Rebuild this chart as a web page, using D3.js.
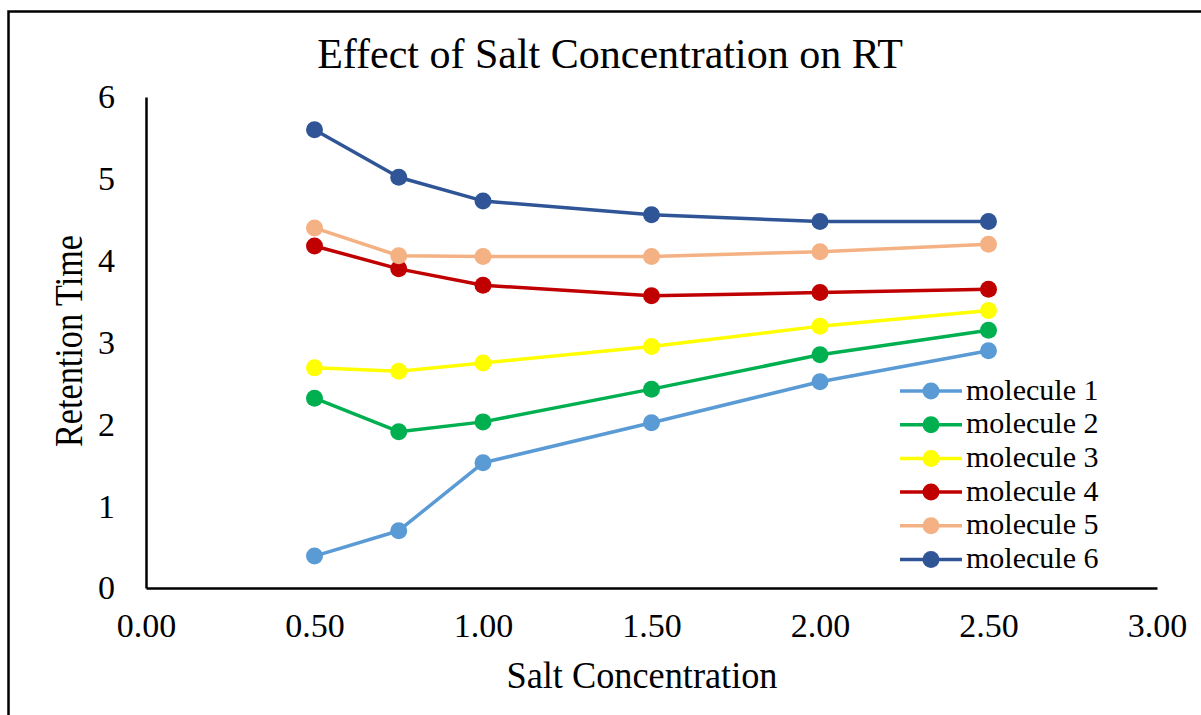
<!DOCTYPE html>
<html>
<head>
<meta charset="utf-8">
<script src="https://cdn.jsdelivr.net/npm/d3@7"></script>
<style>
  body { margin: 0; background: #fff; }
</style>
</head>
<body>
<script>
// salt concentration levels
const saltConc = [0.5, 0.75, 1.0, 1.5, 2.0, 2.5];

const molecule1 = [0.39, 0.70, 1.53, 2.02, 2.52, 2.90];
const molecule2 = [2.32, 1.91, 2.03, 2.43, 2.85, 3.15];
const molecule3 = [2.69, 2.65, 2.75, 2.95, 3.20, 3.39];
const molecule4 = [4.18, 3.90, 3.70, 3.57, 3.61, 3.65];
const molecule5 = [4.40, 4.06, 4.05, 4.05, 4.11, 4.20];
const molecule6 = [5.60, 5.02, 4.73, 4.56, 4.48, 4.48];

const seriesNames = ["molecule 1", "molecule 2", "molecule 3", "molecule 4", "molecule 5", "molecule 6"];
const seriesColors = ["#5B9BD5", "#00B050", "#FFFF00", "#C00000", "#F4B183", "#2F5597"];
const xTicks = [0, 0.5, 1, 1.5, 2, 2.5, 3];
const yTicks = [0, 1, 2, 3, 4, 5, 6];

const allSeries = [molecule1, molecule2, molecule3, molecule4, molecule5, molecule6];

const serif = "'Liberation Serif', 'Times New Roman', serif";
const width = 1201, height = 715;
const plot = {left: 146, right: 1157, top: 97, bottom: 588};

const svg = d3.select("body").append("svg")
  .attr("width", width)
  .attr("height", height);

// outer chart border (only top and left visible in the crop)
svg.append("path")
  .attr("d", "M8.5," + (height + 5) + "V11.5H" + (width + 5))
  .attr("fill", "none")
  .attr("stroke", "#000")
  .attr("stroke-width", 2.5);

const x = d3.scaleLinear().domain([0, 3]).range([plot.left, plot.right]);
const y = d3.scaleLinear().domain([0, 6]).range([plot.bottom, plot.top]);

// axes
const xAxis = svg.append("g")
  .attr("transform", "translate(0," + plot.bottom + ")")
  .call(d3.axisBottom(x).tickValues(xTicks).tickSize(0).tickPadding(25).tickFormat(d3.format(".2f")));
xAxis.select(".domain").attr("stroke", "#000").attr("stroke-width", 2.5);
xAxis.selectAll("text")
  .attr("font-size", 34).attr("fill", "#000").attr("font-family", serif);

const yAxis = svg.append("g")
  .attr("transform", "translate(" + plot.left + ",0)")
  .call(d3.axisLeft(y).tickValues(yTicks).tickSize(0).tickPadding(31).tickFormat(d3.format("d")));
yAxis.select(".domain").attr("stroke", "#000").attr("stroke-width", 2.5);
yAxis.selectAll("text")
  .attr("font-size", 34).attr("fill", "#000").attr("font-family", serif);

// lines and markers
const line = d3.line()
  .x((d, i) => x(saltConc[i]))
  .y(d => y(d));

allSeries.forEach((vals, s) => {
  svg.append("path")
    .datum(vals)
    .attr("fill", "none")
    .attr("stroke", seriesColors[s])
    .attr("stroke-width", 3.5)
    .attr("stroke-linejoin", "round")
    .attr("d", line);

  svg.selectAll(".pt" + s)
    .data(vals)
    .enter()
    .append("circle")
    .attr("class", "pt" + s)
    .attr("cx", (d, i) => x(saltConc[i]))
    .attr("cy", d => y(d))
    .attr("r", 8.5)
    .attr("fill", seriesColors[s]);
});

// titles
svg.append("text")
  .attr("x", 610)
  .attr("y", 68)
  .attr("text-anchor", "middle")
  .attr("font-family", serif)
  .attr("font-size", 42)
  .text("Effect of Salt Concentration on RT");

svg.append("text")
  .attr("x", 642)
  .attr("y", 688)
  .attr("text-anchor", "middle")
  .attr("font-family", serif)
  .attr("font-size", 38)
  .attr("textLength", 271)
  .attr("lengthAdjust", "spacingAndGlyphs")
  .text("Salt Concentration");

svg.append("text")
  .attr("transform", "translate(82,341) rotate(-90)")
  .attr("text-anchor", "middle")
  .attr("font-family", serif)
  .attr("font-size", 40)
  .attr("textLength", 212)
  .attr("lengthAdjust", "spacingAndGlyphs")
  .text("Retention Time");

// legend
const legend = svg.append("g").attr("transform", "translate(900,391)");
seriesNames.forEach((name, i) => {
  const row = legend.append("g").attr("transform", "translate(0," + (i * 33.7) + ")");
  row.append("line")
    .attr("x1", 0).attr("x2", 62)
    .attr("stroke", seriesColors[i])
    .attr("stroke-width", 3.5);
  row.append("circle")
    .attr("cx", 31).attr("r", 8.5)
    .attr("fill", seriesColors[i]);
  row.append("text")
    .attr("x", 66)
    .attr("y", 8.5)
    .attr("font-family", serif)
    .attr("font-size", 30)
    .text(name);
});
</script>
</body>
</html>
